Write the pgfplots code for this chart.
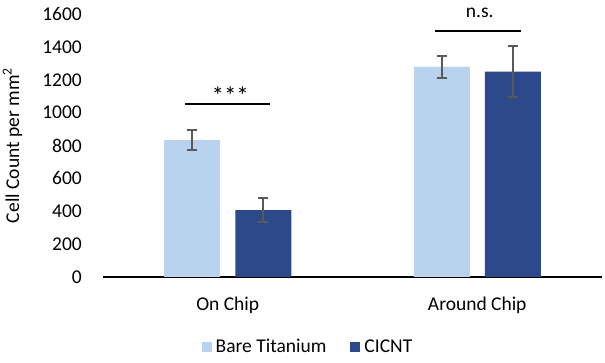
\documentclass[border=0pt]{standalone}
\usepackage{pgfplots}
\pgfplotsset{compat=1.18}
\usepackage{fontspec}
\setmainfont{Carlito}
\definecolor{lightb}{RGB}{185,211,238}
\definecolor{darkb}{RGB}{44,74,138}
\definecolor{errg}{RGB}{89,89,89}
\begin{document}
\begin{tikzpicture}
\fontsize{19.5}{23}\selectfont
\begin{axis}[
  at={(0,0)}, anchor=south west,
  scale only axis, width=499pt, height=263pt,
  clip=false,
  xmin=-0.5, xmax=1.5, ymin=0, ymax=1600,
  axis x line*=bottom, axis y line*=left,
  y axis line style={draw=none},
  x axis line style={black, line width=1.5pt, -},
  xtick={0,1}, xticklabels={On Chip, Around Chip},
  ytick={0,200,...,1600},
  major tick length=0pt,
  /pgf/number format/assume math mode=true,
  /pgf/number format/1000 sep={},
  ticklabel style={font=\fontsize{19.5}{23}\selectfont},
  yticklabel style={anchor=east, inner sep=0pt, xshift=-21pt},
  xticklabel style={anchor=north, inner sep=0pt, yshift=-20pt},
  ylabel={Cell Count per mm\textsuperscript{2}},
  ylabel style={font=\fontsize{19.5}{23}\selectfont, at={(axis description cs:0,0.5)}, anchor=south, yshift=74pt},
  ybar, bar width=56pt,
  legend columns=2,
  legend style={draw=none, fill=none, at={(206pt,-70.5pt)}, anchor=center,
    font=\fontsize{19.5}{23}\selectfont,
    /tikz/every even column/.append style={column sep=20pt},
    nodes={inner xsep=4pt, inner ysep=0pt}},
  legend image code/.code={\fill[#1] (0pt,-5pt) rectangle (10pt,5pt);},
  error bars/error bar style={line width=2pt, color=errg},
  error bars/error mark options={rotate=90, mark size=5pt, line width=2pt, color=errg},
]
\addplot[fill=lightb, draw=none, bar shift=-35.5pt,
  error bars/.cd, y dir=both, y explicit]
  table[x=x, y=y, y error=e] {
x y e
0 833 63
1 1279 68
};
\addlegendentry{Bare Titanium}
\addplot[fill=darkb, draw=none, bar shift=35.5pt,
  error bars/.cd, y dir=both, y explicit]
  table[x=x, y=y, y error=e] {
x y e
0 407 71
1 1249 157
};
\addlegendentry{CICNT}
\draw[line width=2pt] (axis cs:-0.172,1054) -- (axis cs:0.168,1054);
\draw[line width=2pt] (axis cs:0.832,1498) -- (axis cs:1.176,1498);
\node[anchor=base, inner sep=0pt, font=\fontsize{25}{28}\selectfont] at (axis cs:0.01,1050) {***};
\node[anchor=base, inner sep=0pt] at (axis cs:1.01,1576) {n.s.};
\end{axis}
\pgfresetboundingbox
\path (-103pt,-86pt) rectangle (502pt,277pt);
\end{tikzpicture}
\end{document}
